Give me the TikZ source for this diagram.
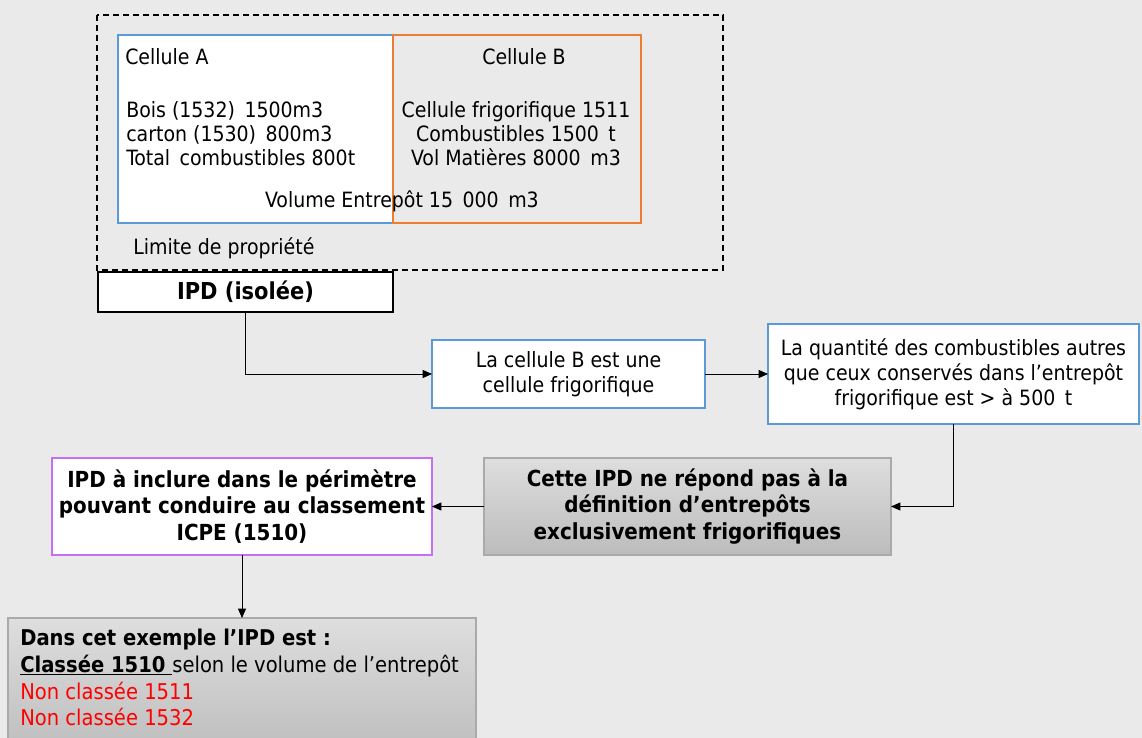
\documentclass[tikz,border=0pt]{standalone}
\usepackage{fontspec}
\setmainfont{DejaVu Sans Condensed}
\usetikzlibrary{arrows.meta}
\definecolor{bg}{RGB}{234,234,234}
\definecolor{cblue}{RGB}{91,155,213}
\definecolor{corange}{RGB}{237,125,49}
\definecolor{cpurple}{RGB}{200,110,245}
\definecolor{cred}{RGB}{255,0,0}
\definecolor{gtop}{RGB}{222,222,222}
\definecolor{gbot}{RGB}{188,188,188}
\definecolor{gborder}{RGB}{170,170,170}
\begin{document}
\begin{tikzpicture}[x=0.75pt,y=-0.75pt,
  pxbox/.style 2 args={minimum width=#1*0.75pt, minimum height=#2*0.75pt, inner sep=0pt, outer sep=0pt},
  txt/.style={font=\fontsize{15.8}{18}\selectfont, inner sep=0pt},
  btxt/.style={font=\fontsize{16.6}{20}\selectfont\bfseries, align=center},
  whitebox/.style={draw=cblue, fill=white, line width=1.1pt, align=center, font=\fontsize{15.8}{18.75}\selectfont},
  greybox/.style={draw=gborder, line width=0.8pt, top color=gtop, bottom color=gbot},
  arr/.style={-{Triangle[length=7pt,width=6pt]}, line width=0.6pt}]
\fill[bg] (0,0) rectangle (1142,738);
\useasboundingbox (0,0) rectangle (1142,738);
% property limit
\draw[dashed, dash pattern=on 4.5pt off 3pt, line width=1pt] (97,15) rectangle (723,270);
% cells
\node[pxbox={275}{188}, draw=cblue, fill=white, line width=1.2pt] (cellA) at (255.5,129) {};
\node[pxbox={248}{188}, draw=corange, line width=1.3pt] (cellB) at (517,129) {};
\node[txt, anchor=west] (tA) at (125,57) {Cellule A};
\node[txt, anchor=west, align=left] (lA) at (126,134) {Bois (1532)\, 1500m3\\carton (1530)\, 800m3\\Total\, combustibles 800t};
\node[txt] (tB) at (524,57) {Cellule B};
\node[txt, align=center] (lB) at (516,134) {Cellule frigorifique 1511\\Combustibles 1500\, t\\Vol Matières 8000\, m3};
\node[txt] (vol) at (402,201) {Volume Entrepôt 15\, 000\, m3};
\node[txt, anchor=west] (lim) at (133,248) {Limite de propriété};
% flow
\node[pxbox={295}{40}, draw=black, fill=white, line width=1.5pt, font=\fontsize{17.5}{20}\selectfont\bfseries] (ipd) at (245.5,292) {IPD (isolée)};
\node[pxbox={273}{68}, whitebox] (b2) at (568.5,374) {La cellule B est une\\cellule frigorifique};
\node[pxbox={371}{100}, whitebox] (b3) at (953.5,374) {La quantité des combustibles autres\\que ceux conservés dans l’entrepôt\\frigorifique est > à 500\, t};
\node[pxbox={407}{97}, greybox, btxt] (b4) at (687.5,506.5) {Cette IPD ne répond pas à la\\définition d’entrepôts\\exclusivement frigorifiques};
\node[pxbox={380}{97}, draw=cpurple, fill=white, line width=1.3pt, btxt] (b5) at (242,506.5) {IPD à inclure dans le périmètre\\pouvant conduire au classement\\ICPE (1510)};
\node[pxbox={468}{140}, greybox] (b6) at (242,688) {};
\node[anchor=north west, inner sep=0pt, align=left, font=\fontsize{16.3}{20}\selectfont] (t6) at (20,629)
  {\textbf{Dans cet exemple l’IPD est :}\\\textbf{\underline{Classée 1510 }}selon le volume de l’entrepôt\\\textcolor{cred}{Non classée 1511}\\\textcolor{cred}{Non classée 1532}};
\draw[arr] (ipd.south) |- (b2.west);
\draw[arr] (b2.east) -- (b3.west);
\draw[arr] (b3.south) |- (b4.east);
\draw[arr] (b4.west) -- (b5.east);
\draw[arr] (b5.south) -- (b6.north);
\end{tikzpicture}
\end{document}
